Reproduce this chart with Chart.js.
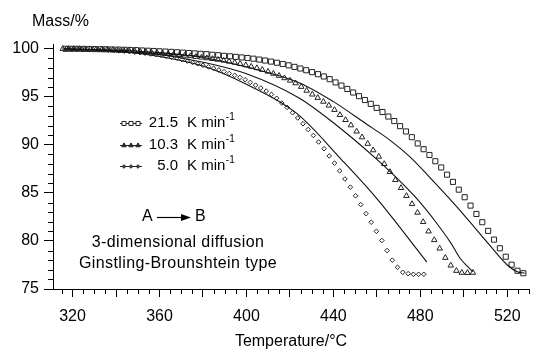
<!DOCTYPE html>
<html>
<head>
<meta charset="utf-8">
<script src="https://cdn.jsdelivr.net/npm/chart.js@4.4.0/dist/chart.umd.min.js"></script>
<style>
  html, body { margin: 0; padding: 0; background: #fff; }
  #wrap { width: 534px; height: 350px; }
</style>
</head>
<body>
<div id="wrap"><canvas id="tga"></canvas></div>
<script>
// heating rates shown in the legend
var rateLabels = ['21.5', '10.3', '5.0'];

// measured mass loss, 21.5 K/min (squares)
var rate215Temp = [316.8, 319.5, 322.2, 324.9, 327.6, 330.3, 333.0, 335.7, 338.4, 341.1,
  343.8, 346.5, 349.2, 351.9, 354.6, 357.3, 360.0, 362.7, 365.4, 368.1,
  370.8, 373.5, 376.2, 378.9, 381.6, 384.3, 387.0, 389.7, 392.4, 395.1,
  397.8, 400.5, 403.2, 405.9, 408.6, 411.3, 414.0, 416.7, 419.4, 422.1,
  424.8, 427.5, 430.2, 432.9, 435.6, 438.3, 441.0, 443.7, 446.4, 449.1,
  451.8, 454.5, 457.2, 459.9, 462.6, 465.3, 468.0, 470.7, 473.4, 476.1,
  478.8, 481.5, 484.2, 486.9, 489.6, 492.3, 495.0, 497.7, 500.4, 503.1,
  505.8, 508.5, 511.2, 513.9, 516.6, 519.3, 522.0, 524.7, 527.4];
var rate215Mass = [100.0, 100.0, 100.0, 99.99, 99.98, 99.97, 99.96, 99.95, 99.93, 99.92,
  99.9, 99.88, 99.86, 99.83, 99.8, 99.77, 99.74, 99.71, 99.68, 99.64,
  99.6, 99.56, 99.52, 99.48, 99.44, 99.38, 99.33, 99.27, 99.22, 99.16,
  99.1, 99.04, 98.97, 98.88, 98.78, 98.67, 98.55, 98.42, 98.28, 98.12,
  97.95, 97.77, 97.57, 97.36, 97.12, 96.84, 96.5, 96.17, 95.82, 95.45,
  95.07, 94.67, 94.27, 93.85, 93.42, 92.95, 92.48, 91.95, 91.4, 90.8,
  90.15, 89.55, 88.95, 88.3, 87.65, 86.9, 86.15, 85.34, 84.55, 83.68,
  82.81, 81.95, 81.05, 80.14, 79.24, 78.36, 77.53, 76.9, 76.64];

// measured mass loss, 10.3 K/min (triangles)
var rate103Temp = [315.5, 318.1, 320.6, 323.2, 325.7, 328.3, 330.8, 333.4, 335.9, 338.5,
  341.0, 343.6, 346.1, 348.7, 351.2, 353.8, 356.3, 358.9, 361.4, 364.0,
  366.5, 369.1, 371.6, 374.2, 376.7, 379.3, 381.8, 384.4, 386.9, 389.5,
  392.0, 394.6, 397.1, 399.7, 402.2, 404.8, 407.3, 409.9, 412.4, 415.0,
  417.5, 420.1, 422.6, 425.2, 427.7, 430.3, 432.8, 435.4, 437.9, 440.5,
  443.0, 445.6, 448.1, 450.7, 453.2, 455.8, 458.3, 460.9, 463.4, 466.0,
  468.5, 471.1, 473.6, 476.2, 478.7, 481.3, 483.8, 486.4, 488.9, 491.5,
  494.0, 496.6, 499.1, 501.7, 504.2];
var rate103Mass = [100.0, 100.0, 99.99, 99.98, 99.97, 99.96, 99.94, 99.92, 99.9, 99.87,
  99.84, 99.81, 99.78, 99.74, 99.7, 99.66, 99.62, 99.57, 99.52, 99.47,
  99.42, 99.36, 99.3, 99.24, 99.17, 99.1, 99.03, 98.95, 98.87, 98.78,
  98.68, 98.57, 98.44, 98.3, 98.15, 98.0, 97.82, 97.63, 97.42, 97.2,
  96.95, 96.7, 96.42, 96.05, 95.65, 95.25, 94.9, 94.5, 94.1, 93.65,
  93.12, 92.6, 92.05, 91.4, 90.8, 90.12, 89.45, 88.78, 88.02, 87.19,
  86.35, 85.52, 84.69, 83.85, 82.95, 81.98, 81.0, 80.1, 79.22, 78.25,
  77.45, 76.9, 76.7, 76.68, 76.7];

// measured mass loss, 5.0 K/min (diamonds)
var rate50Temp = [317.2, 319.6, 322.0, 324.4, 326.8, 329.3, 331.7, 334.1, 336.5, 338.9,
  341.4, 343.8, 346.2, 348.6, 351.0, 353.4, 355.9, 358.3, 360.7, 363.1,
  365.5, 368.0, 370.4, 372.8, 375.2, 377.6, 380.0, 382.5, 384.9, 387.3,
  389.7, 392.1, 394.6, 397.0, 399.4, 401.8, 404.2, 406.6, 409.1, 411.5,
  413.9, 416.3, 418.7, 421.2, 423.6, 426.0, 428.4, 430.8, 433.2, 435.7,
  438.1, 440.5, 442.9, 445.3, 447.8, 450.2, 452.6, 455.0, 457.4, 459.8,
  462.3, 464.7, 467.1, 469.5, 471.9, 474.4, 476.8, 479.2, 481.6];
var rate50Mass = [100.0, 99.99, 99.98, 99.97, 99.96, 99.94, 99.92, 99.89, 99.86, 99.83,
  99.79, 99.75, 99.7, 99.65, 99.6, 99.54, 99.47, 99.4, 99.32, 99.23,
  99.14, 99.04, 98.87, 98.72, 98.58, 98.44, 98.29, 98.13, 97.97, 97.8,
  97.62, 97.43, 97.23, 97.02, 96.78, 96.5, 96.22, 95.92, 95.6, 95.25,
  94.85, 94.35, 93.9, 93.35, 92.8, 92.2, 91.6, 90.98, 90.3, 89.6,
  88.85, 88.1, 87.3, 86.45, 85.6, 84.7, 83.78, 82.85, 81.95, 81.0,
  80.05, 79.0, 78.0, 77.26, 76.74, 76.6, 76.53, 76.53, 76.53];

// model curves (3D diffusion, Ginstling-Brounshtein)
var fit215Temp = [316, 340, 360, 380, 400, 424, 440, 455, 466, 475, 484, 493, 502, 511, 520, 524.6, 528];
var fit215Mass = [100, 99.85, 99.6, 99.1, 98.1, 96.5, 94.5, 92.2, 90.5, 88.8, 86.7, 84.5, 82.2, 79.8, 77.5, 76.8, 76.65];
var fit103Temp = [316, 340, 360, 380, 400, 424, 440, 460, 469, 478, 487, 494, 498.3, 501.5, 504.2];
var fit103Mass = [100, 99.8, 99.4, 98.6, 97.4, 94.9, 92.3, 88.5, 86.6, 84.5, 82.0, 79.8, 78.2, 77.4, 76.8];
var fit50Temp = [316, 340, 360, 380, 400, 423, 444, 460, 483];
var fit50Mass = [100, 99.75, 99.2, 98.2, 96.3, 93.3, 88.4, 84.4, 77.8];

var FONT = "'Liberation Sans', Arial, sans-serif";
Chart.defaults.font.family = FONT;
Chart.defaults.color = '#000';

function pts(xs, ys) {
    return xs.map(function (t, i) { return { x: t, y: ys[i] }; });
}

var markerSets = [
    { label: rateLabels[0], data: pts(rate215Temp, rate215Mass), pointStyle: 'rect', pointRadius: 3.6, keyFill: '#fff' },
    { label: rateLabels[1], data: pts(rate103Temp, rate103Mass), pointStyle: 'triangle', pointRadius: 3.2, keyFill: '#222' },
    { label: rateLabels[2], data: pts(rate50Temp, rate50Mass), pointStyle: 'rectRot', pointRadius: 2.3, keyFill: '#444' }
];

var fitSets = [pts(fit215Temp, fit215Mass), pts(fit103Temp, fit103Mass), pts(fit50Temp, fit50Mass)];

var datasets = [];
fitSets.forEach(function (d) {
    datasets.push({
        data: d,
        showLine: true,
        borderColor: '#111',
        borderWidth: 1.1,
        pointRadius: 0,
        cubicInterpolationMode: 'monotone'
    });
});
markerSets.forEach(function (s) {
    datasets.push({
        label: s.label,
        data: s.data,
        showLine: false,
        pointStyle: s.pointStyle,
        pointRadius: s.pointRadius,
        pointBorderWidth: 1,
        pointBorderColor: '#222',
        pointBackgroundColor: 'rgba(0,0,0,0)'
    });
});

// small unlabelled ticks: every 5 degC and every 1 %
var minorTicks = {
    id: 'minorTicks',
    afterDraw: function (chart) {
        var ctx = chart.ctx, area = chart.chartArea;
        var x = chart.scales.x, y = chart.scales.y;
        ctx.save();
        ctx.strokeStyle = '#000';
        ctx.lineWidth = 1;
        ctx.beginPath();
        for (var t = Math.ceil(x.min / 5) * 5; t <= x.max; t += 5) {
            if (t % 20 === 0) continue;
            var px = Math.round(x.getPixelForValue(t)) + 0.5;
            ctx.moveTo(px, area.bottom);
            ctx.lineTo(px, area.bottom + 5);
        }
        for (var m = Math.ceil(y.min); m <= y.max; m++) {
            if (m % 5 === 0) continue;
            var py = Math.round(y.getPixelForValue(m)) + 0.5;
            ctx.moveTo(area.left - 5, py);
            ctx.lineTo(area.left, py);
        }
        ctx.stroke();
        ctx.restore();
    }
};

// axis caption, legend box and the mechanism note
var annotations = {
    id: 'annotations',
    afterDraw: function (chart) {
        var ctx = chart.ctx, area = chart.chartArea;
        ctx.save();
        ctx.fillStyle = '#000';
        ctx.strokeStyle = '#000';
        ctx.textBaseline = 'middle';

        ctx.font = '16px ' + FONT;
        ctx.textAlign = 'left';
        ctx.fillText('Mass/%', 32, 22);

        // legend
        var lx = area.left + 67, rows = [area.top + 79, area.top + 101, area.top + 122];
        markerSets.forEach(function (s, i) {
            var ry = rows[i] + 0.5;
            ctx.lineWidth = 1;
            ctx.strokeStyle = '#222';
            ctx.beginPath();
            ctx.moveTo(lx, ry);
            ctx.lineTo(lx + 22, ry);
            ctx.stroke();
            ctx.fillStyle = s.keyFill;
            for (var k = 0; k < 3; k++) {
                Chart.helpers.drawPoint(ctx, {
                    pointStyle: s.pointStyle,
                    radius: s.pointRadius * 0.8,
                    borderWidth: 1
                }, lx + 4 + k * 7, ry);
            }
            ctx.fillStyle = '#000';
            ctx.strokeStyle = '#000';
            ctx.font = '15px ' + FONT;
            ctx.textAlign = 'right';
            ctx.fillText(s.label, lx + 58, rows[i]);
            ctx.textAlign = 'left';
            ctx.fillText('K min', lx + 67, rows[i]);
            var w = ctx.measureText('K min').width;
            ctx.font = '10px ' + FONT;
            ctx.fillText('-1', lx + 67 + w + 0.5, rows[i] - 6);
        });

        // A -> B
        var ay = area.top + 173;
        ctx.font = '16px ' + FONT;
        ctx.textAlign = 'left';
        ctx.fillText('A', 142, ay);
        ctx.fillText('B', 195, ay);
        ctx.lineWidth = 1.2;
        ctx.beginPath();
        ctx.moveTo(157, ay + 0.5);
        ctx.lineTo(183, ay + 0.5);
        ctx.stroke();
        ctx.beginPath();
        ctx.moveTo(191, ay + 0.5);
        ctx.lineTo(181, ay - 3);
        ctx.lineTo(181, ay + 4);
        ctx.closePath();
        ctx.fill();

        ctx.letterSpacing = '0.4px';
        ctx.textAlign = 'center';
        ctx.fillText('3-dimensional diffusion', 178, area.top + 199);
        ctx.fillText('Ginstling-Brounshtein type', 178, area.top + 220);
        ctx.restore();
    }
};

new Chart(document.getElementById('tga'), {
    type: 'scatter',
    data: { datasets: datasets },
    options: {
        responsive: true,
        maintainAspectRatio: false,
        animation: false,
        devicePixelRatio: 1,
        layout: { padding: { top: 44, right: 0, bottom: 0, left: 0 } },
        plugins: {
            legend: { display: false },
            tooltip: { enabled: false },
            title: { display: false }
        },
        scales: {
            x: {
                type: 'linear',
                position: 'bottom',
                min: 311,
                max: 530,
                border: { display: true, color: '#000', width: 1 },
                grid: { drawOnChartArea: false, tickLength: 8, tickColor: '#000', tickWidth: 1 },
                ticks: {
                    stepSize: 20,
                    includeBounds: false,
                    autoSkip: false,
                    maxRotation: 0,
                    padding: 10,
                    color: '#000',
                    font: { size: 16 },
                    callback: function (v) { return v % 40 === 0 ? String(v) : ''; }
                },
                title: {
                    display: true,
                    text: 'Temperature/°C',
                    color: '#000',
                    font: { size: 16, lineHeight: 1 },
                    padding: 0
                },
                afterFit: function (s) { s.height = 61; }
            },
            y: {
                type: 'linear',
                min: 75,
                max: 100.5,
                border: { display: true, color: '#000', width: 1 },
                grid: { drawOnChartArea: false, tickLength: 9, tickColor: '#000', tickWidth: 1 },
                ticks: {
                    stepSize: 5,
                    includeBounds: false,
                    padding: 5,
                    color: '#000',
                    font: { size: 16 }
                },
                afterFit: function (s) { s.width = 53; }
            }
        }
    },
    plugins: [minorTicks, annotations]
});
</script>
</body>
</html>
